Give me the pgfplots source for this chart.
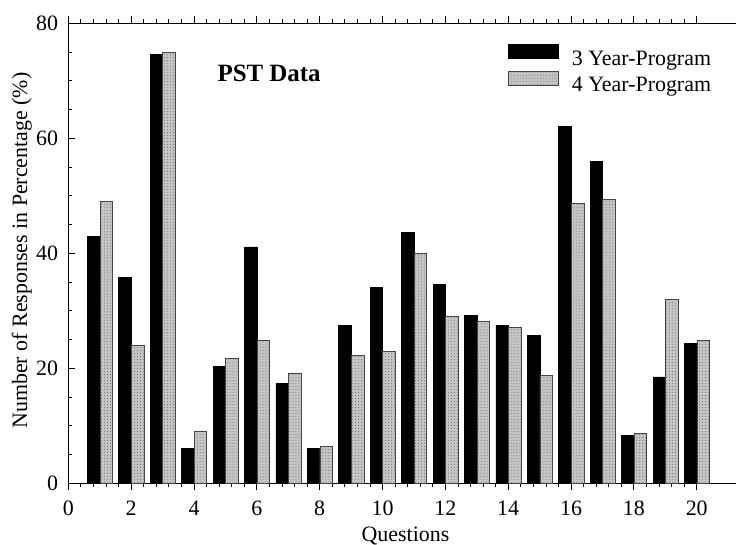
\documentclass[border=0pt]{standalone}
\usepackage{pgfplots}
\pgfplotsset{compat=1.18}
\usepackage{pgfplotstable}
\usetikzlibrary{patterns}
\usepackage{fontspec}
\setmainfont{Liberation Serif}

\definecolor{stipple}{RGB}{196,196,196}
\definecolor{stippledot}{RGB}{110,110,110}
\definecolor{stippleedge}{RGB}{70,70,70}

\pgfplotstableread{
q   v
1   43.0
2   35.8
3   74.6
4   6.0
5   20.3
6   41.1
7   17.3
8   6.0
9   27.5
10  34.0
11  43.6
12  34.6
13  29.2
14  27.5
15  25.7
16  62.0
17  56.0
18  8.4
19  18.5
20  24.4
}\threeyear

\pgfplotstableread{
q   v
1   49.0
2   24.0
3   75.0
4   9.1
5   21.8
6   24.9
7   19.2
8   6.4
9   22.2
10  23.0
11  39.9
12  29.0
13  28.2
14  27.1
15  18.8
16  48.6
17  49.3
18  8.7
19  32.0
20  24.9
}\fouryear

\begin{document}
\begin{tikzpicture}
\begin{axis}[
    width=667.7bp, height=460bp, scale only axis,
    xmin=0, xmax=21.25, ymin=0, ymax=80,
    axis x line*=box, axis y line*=left,
    xtick pos=both, ytick pos=left,
    xticklabel pos=bottom, yticklabel pos=left,
    xtick={0,2,...,20}, ytick={0,20,...,80},
    minor x tick num=4, minor y tick num=3,
    tick align=inside,
    major tick length=7bp, minor tick length=4bp,
    axis line style={line width=1bp},
    every tick/.style={black, line width=0.8bp},
    font=\fontsize{22}{26}\selectfont,
    /pgf/number format/assume math mode=true,
    xticklabel style={font=\fontsize{22}{26}\selectfont, inner sep=0pt, anchor=base, yshift=-25bp},
    yticklabel style={font=\fontsize{22}{26}\selectfont, inner sep=0pt, anchor=east, xshift=-10bp},
    xlabel={Questions},
    xlabel style={at={([yshift=-58.5bp]axis description cs:0.505,0)}, anchor=base, inner sep=0pt},
    ylabel={Number of Responses in Percentage (\%)},
    ylabel style={at={([xshift=-46.6bp]axis description cs:0,0.506)}, anchor=center, inner sep=0pt},
    ybar, bar width=0.4,
    legend style={at={(axis cs:13.99,76.4)}, anchor=north west, draw=none, fill=none,
        inner sep=0pt, row sep=4.4bp, column sep=13bp,
        nodes={inner sep=0pt}, font=\fontsize{22}{26}\selectfont},
    legend cell align=left,
    legend image code/.code={\draw[#1, bar shift=0pt] (0bp,0.5bp) rectangle (50bp,14bp);},
]
\addplot[fill=black, draw=black, line width=0.8bp, bar shift=-0.19] table[x=q, y=v] {\threeyear};
\addlegendentry{3 Year-Program}
\addplot[fill=stipple, draw=stippleedge, line width=0.8bp, bar shift=0.21,
    postaction={pattern=dots, pattern color=stippledot}] table[x=q, y=v] {\fouryear};
\addlegendentry{4 Year-Program}
\node[font=\bfseries\fontsize{25}{30}\selectfont, anchor=base] at (axis cs:6.39,69.8) {PST Data};
\end{axis}
\pgfresetboundingbox
\path[use as bounding box] (-68.3bp,-61.7bp) rectangle (667.7bp,483.3bp);
\end{tikzpicture}
\end{document}
